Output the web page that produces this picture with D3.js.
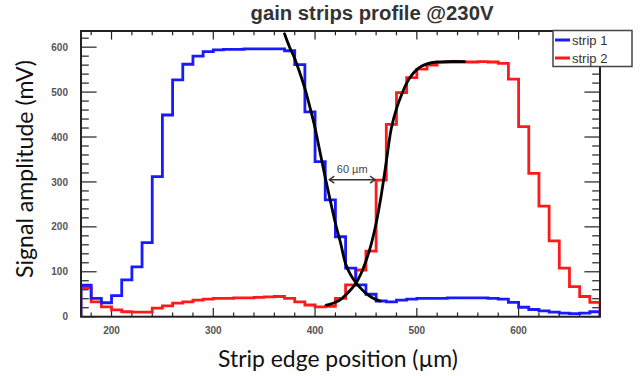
<!DOCTYPE html>
<html>
<head>
<meta charset="utf-8">
<script src="https://cdn.jsdelivr.net/npm/d3@7"></script>
<style>
  html, body { margin: 0; padding: 0; background: #fff; }
  svg { display: block; }
</style>
</head>
<body>
<svg id="chart" width="641" height="376"></svg>
<script>
// ---------------- data ----------------
const titleText = "gain strips profile @230V";
const xTitle = "Strip edge position (\u00b5m)";
const yTitle = "Signal amplitude (mV)";
const seriesNames = ["strip 1", "strip 2"];
const xDomain = [170, 680];
const yDomain = [0, 636];
const binStart = 170;
const binWidth = 10;
const xTickLabels = [200, 300, 400, 500, 600];
const yTickLabels = [0, 100, 200, 300, 400, 500, 600];

// strip 1 (blue), one value per 10 µm bin from 170 µm
const strip1 = [70, 41, 31, 47, 82, 111, 165, 312, 449, 527,
                562, 580, 590, 594, 595, 595, 596, 596, 596, 596,
                592, 561, 456, 345, 260, 178, 108, 71, 50, 35,
                33, 37, 39, 41, 41, 41, 42, 42, 42, 42,
                41, 39, 32, 21, 16, 13, 10, 8, 7, 8, 11];
// strip 2 (red)
const strip2 = [65, 33, 22, 15, 11, 10, 10, 19, 24, 30,
                33, 37, 39, 41, 41, 42, 42, 43, 44, 45,
                41, 33, 26, 22, 23, 41, 71, 104, 146, 304,
                428, 499, 532, 551, 560, 566, 567, 567, 567, 568,
                567, 564, 529, 423, 319, 246, 169, 108, 67, 45, 32];

// fitted edge curves: [µm, mV]
const fitFall = [[370,630],[375,600],[380,575],[385,543],[390,508],[395,466],[400,420],
                 [405,365],[410,310],[415,258],[420,208],[425,165],[430,118],[435,93],
                 [440,76],[445,63],[450,52],[455,44],[460,38],[464,35]];
const fitRise = [[411,26],[415,28],[420,32],[425,38],[430,48],[435,60],[440,74],[445,95],
                 [450,124],[455,160],[460,208],[465,270],[470,345],[475,420],[480,463],
                 [485,494],[490,520],[495,538],[500,550],[505,558],[510,563],[520,567],
                 [530,568],[547,568]];
// "60 µm" annotation arrow
const arrowFrom = 414, arrowTo = 459, arrowY = 305;
const arrowLabel = "60 \u00b5m";

// ---------------- layout ----------------
const L = 81, R = 600, T = 31, B = 316.7;
const svg = d3.select("#chart");
const x = d3.scaleLinear().domain(xDomain).range([L, R]);
const y = d3.scaleLinear().domain(yDomain).range([B, T]);

const ink = "#222";

svg.append("defs").append("clipPath").attr("id", "clip")
  .append("rect").attr("x", L).attr("y", T).attr("width", R - L).attr("height", B - T);

// fit text helper
function fitText(sel, target) {
  const w = sel.node().getComputedTextLength();
  const fs = parseFloat(sel.attr("font-size"));
  sel.attr("font-size", (fs * target / w).toFixed(2));
}

// title
const tt = svg.append("text").attr("x", 372).attr("y", 20)
  .attr("text-anchor", "middle").attr("font-family", "Liberation Sans, Arial, sans-serif")
  .attr("font-weight", "bold").attr("font-size", 18).attr("fill", "#333").text(titleText);
fitText(tt, 243);

// axes tick marks (ROOT style, inside, on all four sides)
const xMinor = d3.range(180, 681, 20);
const yMinor = d3.range(0, 637, 20);
const g = svg.append("g");
const majLenX = 8.6, minLenX = 4.3, majLenY = 15.6, minLenY = 7.8;
xMinor.forEach(v => {
  const maj = v % 100 === 0;
  const len = maj ? majLenX : minLenX;
  g.append("line").attr("x1", x(v)).attr("x2", x(v)).attr("y1", B).attr("y2", B - len)
    .attr("stroke", ink).attr("stroke-width", 1.2);
  g.append("line").attr("x1", x(v)).attr("x2", x(v)).attr("y1", T).attr("y2", T + len)
    .attr("stroke", ink).attr("stroke-width", 1.2);
});
yMinor.forEach(v => {
  const maj = v % 100 === 0;
  const len = maj ? majLenY : minLenY;
  g.append("line").attr("x1", L).attr("x2", L + len).attr("y1", y(v)).attr("y2", y(v))
    .attr("stroke", ink).attr("stroke-width", 1.2);
  g.append("line").attr("x1", R).attr("x2", R - len).attr("y1", y(v)).attr("y2", y(v))
    .attr("stroke", ink).attr("stroke-width", 1.2);
});

// tick labels
svg.append("g").selectAll("text").data(xTickLabels).join("text")
  .attr("x", d => x(d)).attr("y", 334).attr("text-anchor", "middle")
  .attr("font-family", "Liberation Sans, Arial, sans-serif").attr("font-weight", "bold")
  .attr("font-size", 10).attr("fill", "#555").text(d => d);
svg.append("g").selectAll("text").data(yTickLabels).join("text")
  .attr("x", 68).attr("y", d => y(d) + 3.6).attr("text-anchor", "end")
  .attr("font-family", "Liberation Sans, Arial, sans-serif").attr("font-weight", "bold")
  .attr("font-size", 10).attr("fill", "#555").text(d => d);

// axis titles
const xt = svg.append("text").attr("x", 338).attr("y", 367).attr("text-anchor", "middle")
  .attr("font-family", "Lato, Open Sans, sans-serif").attr("font-size", 21)
  .attr("fill", "#111").text(xTitle);
fitText(xt, 240);
const yt = svg.append("text").attr("transform", "translate(33,169) rotate(-90)")
  .attr("text-anchor", "middle")
  .attr("font-family", "Lato, Open Sans, sans-serif").attr("font-size", 21)
  .attr("fill", "#111").text(yTitle);
fitText(yt, 218);

// histograms
function stepPoints(vals) {
  const pts = [[binStart, 0]];
  vals.forEach((v, i) => {
    pts.push([binStart + i * binWidth, v]);
    pts.push([binStart + (i + 1) * binWidth, v]);
  });
  pts.push([binStart + vals.length * binWidth, 0]);
  return pts;
}
const line = d3.line().x(d => x(d[0])).y(d => y(d[1]));
const plot = svg.append("g").attr("clip-path", "url(#clip)");
plot.append("path").attr("d", line(stepPoints(strip2))).attr("fill", "none")
  .attr("stroke", "#ff1a1a").attr("stroke-width", 2.8).attr("stroke-linejoin", "miter");
plot.append("path").attr("d", line(stepPoints(strip1))).attr("fill", "none")
  .attr("stroke", "#1a1aff").attr("stroke-width", 2.8).attr("stroke-linejoin", "miter");

// fit curves
const smooth = d3.line().x(d => x(d[0])).y(d => y(d[1])).curve(d3.curveCatmullRom.alpha(0.5));
plot.append("path").attr("d", smooth(fitFall)).attr("fill", "none")
  .attr("stroke", "#000").attr("stroke-width", 2.8).attr("stroke-linecap", "round");
plot.append("path").attr("d", smooth(fitRise)).attr("fill", "none")
  .attr("stroke", "#000").attr("stroke-width", 2.8).attr("stroke-linecap", "round");

// annotation
const ax1 = x(arrowFrom), ax2 = x(arrowTo), ay = y(arrowY);
const ann = svg.append("g").attr("stroke", "#333").attr("stroke-width", 1.4).attr("fill", "none");
ann.append("line").attr("x1", ax1).attr("x2", ax2).attr("y1", ay).attr("y2", ay);
ann.append("path").attr("d", `M${ax1 + 5},${ay - 3.5} L${ax1},${ay} L${ax1 + 5},${ay + 3.5}`);
ann.append("path").attr("d", `M${ax2 - 5},${ay - 3.5} L${ax2},${ay} L${ax2 - 5},${ay + 3.5}`);
svg.append("text").attr("x", (ax1 + ax2) / 2).attr("y", ay - 7).attr("text-anchor", "middle")
  .attr("font-family", "Liberation Sans, Arial, sans-serif").attr("font-size", 11)
  .attr("fill", "#444").text(arrowLabel);

// frame
svg.append("rect").attr("x", L).attr("y", T).attr("width", R - L).attr("height", B - T)
  .attr("fill", "none").attr("stroke", ink).attr("stroke-width", 2);

// legend
const lg = svg.append("g");
lg.append("rect").attr("x", 553).attr("y", 30.5).attr("width", 79).attr("height", 36)
  .attr("fill", "#fff").attr("stroke", "#444").attr("stroke-width", 1.5);
const colors = ["#1a1aff", "#ff1a1a"];
seriesNames.forEach((name, i) => {
  const cy = 40 + i * 18;
  lg.append("line").attr("x1", 555).attr("x2", 570).attr("y1", cy).attr("y2", cy)
    .attr("stroke", colors[i]).attr("stroke-width", 3);
  lg.append("text").attr("x", 572).attr("y", cy + 4.5)
    .attr("font-family", "Liberation Sans, Arial, sans-serif").attr("font-size", 13)
    .attr("fill", "#333").text(name);
});
</script>
</body>
</html>
